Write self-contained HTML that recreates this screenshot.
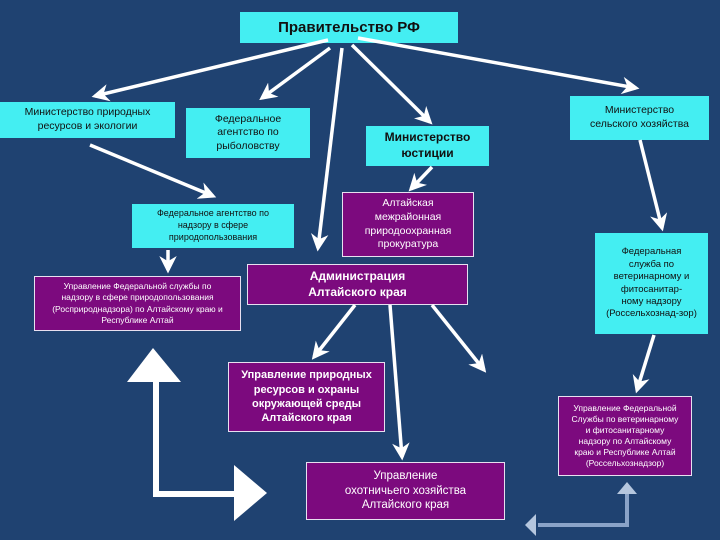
<!DOCTYPE html>
<html><head><meta charset="utf-8"><style>
body{margin:0;width:720px;height:540px;background:#1f4271;position:relative;overflow:hidden;font-family:"Liberation Sans",sans-serif}
.b{position:absolute;display:flex;align-items:center;justify-content:center;text-align:center;box-sizing:border-box;line-height:1.3}
.c{background:#44eef2;color:#111}
.p{background:#7c0a7e;color:#fff;border:1px solid #e8e0f0}
svg{position:absolute;left:0;top:0}
</style></head><body>
<div class="b c" style="left:240px;top:12px;width:218px;height:31px;font-size:15px;font-weight:bold">Правительство РФ</div>
<div class="b c" style="left:0;top:102px;width:175px;height:36px;font-size:10.5px">Министерство природных<br>ресурсов и экологии</div>
<div class="b c" style="left:186px;top:108px;width:124px;height:50px;font-size:10.5px">Федеральное<br>агентство по<br>рыболовству</div>
<div class="b c" style="left:366px;top:126px;width:123px;height:40px;font-size:12px;font-weight:bold">Министерство<br>юстиции</div>
<div class="b c" style="left:570px;top:96px;width:139px;height:44px;font-size:10.5px">Министерство<br>сельского хозяйства</div>
<div class="b c" style="left:132px;top:204px;width:162px;height:44px;font-size:9px">Федеральное агентство по<br>надзору в сфере<br>природопользования</div>
<div class="b p" style="left:342px;top:192px;width:132px;height:65px;font-size:10.5px">Алтайская<br>межрайонная<br>природоохранная<br>прокуратура</div>
<div class="b c" style="left:595px;top:233px;width:113px;height:101px;font-size:9.5px">Федеральная<br>служба по<br>ветеринарному и<br>фитосанитар-<br>ному надзору<br>(Россельхознад-зор)</div>
<div class="b p" style="left:247px;top:264px;width:221px;height:41px;font-size:12px;font-weight:bold">Администрация<br>Алтайского края</div>
<div class="b p" style="left:34px;top:276px;width:207px;height:55px;font-size:8.5px">Управление Федеральной службы по<br>надзору в сфере природопользования<br>(Росприроднадзора) по Алтайскому краю и<br>Республике Алтай</div>
<div class="b p" style="left:228px;top:362px;width:157px;height:70px;font-size:11px;font-weight:bold">Управление природных<br>ресурсов и охраны<br>окружающей среды<br>Алтайского края</div>
<div class="b p" style="left:306px;top:462px;width:199px;height:58px;font-size:11.5px">Управление<br>охотничьего хозяйства<br>Алтайского края</div>
<div class="b p" style="left:558px;top:396px;width:134px;height:80px;font-size:8.5px">Управление Федеральной<br>Службы по ветеринарному<br>и фитосанитарному<br>надзору по Алтайскому<br>краю и Республике Алтай<br>(Россельхознадзор)</div>
<svg width="720" height="540">
<defs><marker id="a" markerWidth="5" markerHeight="5" refX="4" refY="2.5" orient="auto" markerUnits="strokeWidth"><path d="M0,0L5,2.5L0,5L1.5,2.5z" fill="#fff"/></marker></defs>
<g stroke="#fff" stroke-width="3.5" marker-end="url(#a)" fill="none">
<line x1="328" y1="40" x2="95" y2="96"/>
<line x1="330" y1="48" x2="262" y2="98"/>
<line x1="342" y1="48" x2="318" y2="248"/>
<line x1="352" y1="45" x2="430" y2="122"/>
<line x1="358" y1="38" x2="636" y2="88"/>
<line x1="90" y1="145" x2="213" y2="196"/>
<line x1="168" y1="250" x2="168" y2="270"/>
<line x1="432" y1="167" x2="411" y2="189"/>
<line x1="640" y1="140" x2="662" y2="228"/>
<line x1="355" y1="305" x2="314" y2="357"/>
<line x1="390" y1="305" x2="402" y2="457"/>
<line x1="432" y1="305" x2="484" y2="370"/>
<line x1="654" y1="335" x2="637" y2="390"/>
</g>
<path d="M156,380V494H236" stroke="#fff" stroke-width="6" fill="none"/>
<polygon points="153,348 181,382 127,382" fill="#fff"/>
<polygon points="234,465 267,493 234,521" fill="#fff"/>
<path d="M627,492V525H538" stroke="#8aa3c8" stroke-width="4" fill="none"/>
<polygon points="627,482 637,494 617,494" fill="#b5c6de"/>
<polygon points="525,525 536,514 536,536" fill="#b5c6de"/>
</svg>
</body></html>
